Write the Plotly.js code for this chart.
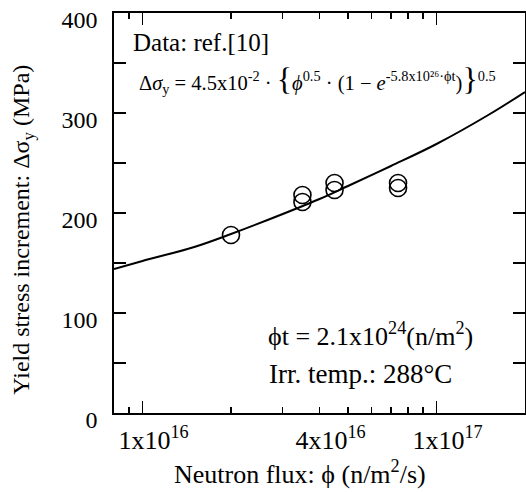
<!DOCTYPE html>
<html>
<head>
<meta charset="utf-8">
<script src="https://cdn.plot.ly/plotly-3.0.1.min.js"></script>
<style>html,body{margin:0;padding:0;background:#fff;}#chart{width:526px;height:492px;}</style>
</head>
<body>
<div id="chart"></div>
<script>
// Measured data (neutron flux, n/m^2/s ; yield stress increment, MPa)
const fluxData = [2.0e16, 3.5e16, 3.5e16, 4.5e16, 4.5e16, 7.4e16, 7.4e16];
const stressData = [178, 211, 218, 223, 230, 225, 230];

// Fitted curve
const fluxCurve = [8e15, 1e16, 1.5e16, 2e16, 3e16, 4e16, 5e16, 7e16, 1e17, 1.5e17, 2e17];
const stressCurve = [144, 152, 166, 179, 199, 214, 227, 247, 269, 298, 321];

// Tick labels
const xTickVals = [1e16, 4e16, 1e17];
const xTickText = ['1x10<sup>16</sup>', '4x10<sup>16</sup>', '1x10<sup>17</sup>'];
const xMajorVals = [1e16, 1e17];
const xMinorVals = [9e15, 2e16, 3e16, 5e16, 6e16, 7e16, 8e16, 9e16];

const FONT = 'Liberation Serif, Times New Roman, serif';
const xr = [Math.log10(8e15), Math.log10(2e17)];

const traces = [
  {x: fluxCurve, y: stressCurve, mode: 'lines', type: 'scatter', xaxis: 'x2', yaxis: 'y',
   line: {color: '#000', width: 2, shape: 'spline'}, hoverinfo: 'skip'},
  {x: fluxData, y: stressData, mode: 'markers', type: 'scatter',
   marker: {symbol: 'circle-open', size: 17, color: '#000', line: {width: 1.6, color: '#000'}}}
];

const layout = {
  width: 526, height: 492,
  margin: {l: 114, r: 1, t: 13, b: 79},
  paper_bgcolor: '#fff', plot_bgcolor: '#fff',
  showlegend: false,
  font: {family: FONT, size: 23, color: '#000'},
  xaxis: {
    type: 'log', range: xr,
    tickmode: 'array', tickvals: xTickVals, ticktext: xTickText,
    ticks: 'inside', ticklen: 6, tickwidth: 1.3, tickcolor: '#000',
    minor: {tickmode: 'array', tickvals: xMinorVals, ticks: 'inside', ticklen: 6, tickwidth: 1.3, tickcolor: '#000', showgrid: false},
    showline: true, linewidth: 1.6, linecolor: '#000', mirror: 'allticks',
    showgrid: false, zeroline: false,
    tickfont: {family: FONT, size: 26},
    ticklabelstandoff: 3, ticklabelshift: 11
  },
  xaxis2: {
    type: 'log', range: xr, overlaying: 'x', side: 'bottom',
    tickmode: 'array', tickvals: xMajorVals, showticklabels: false,
    ticks: 'inside', ticklen: 12, tickwidth: 1.3, tickcolor: '#000',
    showline: false, mirror: 'allticks', showgrid: false, zeroline: false
  },
  yaxis: {
    range: [0, 400], tickmode: 'linear', tick0: 0, dtick: 100,
    ticks: 'inside', ticklen: 12, tickwidth: 1.3, tickcolor: '#000',
    minor: {dtick: 50, ticks: 'inside', ticklen: 6, tickwidth: 1.3, tickcolor: '#000', showgrid: false},
    showline: true, linewidth: 1.6, linecolor: '#000', mirror: 'allticks',
    showgrid: false, zeroline: false,
    tickfont: {family: FONT, size: 24},
    ticklabelstandoff: 10, ticklabelshift: 7
  },
  annotations: [
    {xref: 'paper', yref: 'paper', x: -0.222, y: 0.4575, xanchor: 'center', yanchor: 'middle', showarrow: false,
     textangle: -90, text: 'Yield stress increment: Δσ<sub>y</sub> (MPa)', font: {family: FONT, size: 24}},
    {xref: 'paper', yref: 'paper', x: 0.452, y: -0.15, xanchor: 'center', yanchor: 'middle', showarrow: false,
     text: 'Neutron flux: ϕ (n/m<sup>2</sup>/s)', font: {family: FONT, size: 26}},
    {xref: 'paper', yref: 'paper', x: 0.042, y: 0.9275, xanchor: 'left', yanchor: 'middle', showarrow: false,
     text: 'Data: ref.[10]', font: {family: FONT, size: 25}},
    {xref: 'paper', yref: 'paper', x: 0.055, y: 0.835, xanchor: 'left', yanchor: 'middle', showarrow: false,
     text: 'Δ<i>σ</i><sub>y</sub> = 4.5x10<sup>-2</sup> · <span style="font-size:32px">{</span><i>ϕ</i><sup>0.5</sup> · (1 − <i>e</i><sup>-5.8x10²⁶·ϕt</sup>)<span style="font-size:32px">}</span><sup>0.5</sup>',
     font: {family: FONT, size: 20.5}},
    {xref: 'paper', yref: 'paper', x: 0.37, y: 0.1975, xanchor: 'left', yanchor: 'middle', showarrow: false,
     text: 'ϕt = 2.1x10<sup>24</sup>(n/m<sup>2</sup>)', font: {family: FONT, size: 26}},
    {xref: 'paper', yref: 'paper', x: 0.372, y: 0.0975, xanchor: 'left', yanchor: 'middle', showarrow: false,
     text: 'Irr. temp.: 288°C', font: {family: FONT, size: 27}}
  ]
};

Plotly.newPlot('chart', traces, layout, {staticPlot: true, displayModeBar: false});
</script>
</body>
</html>
